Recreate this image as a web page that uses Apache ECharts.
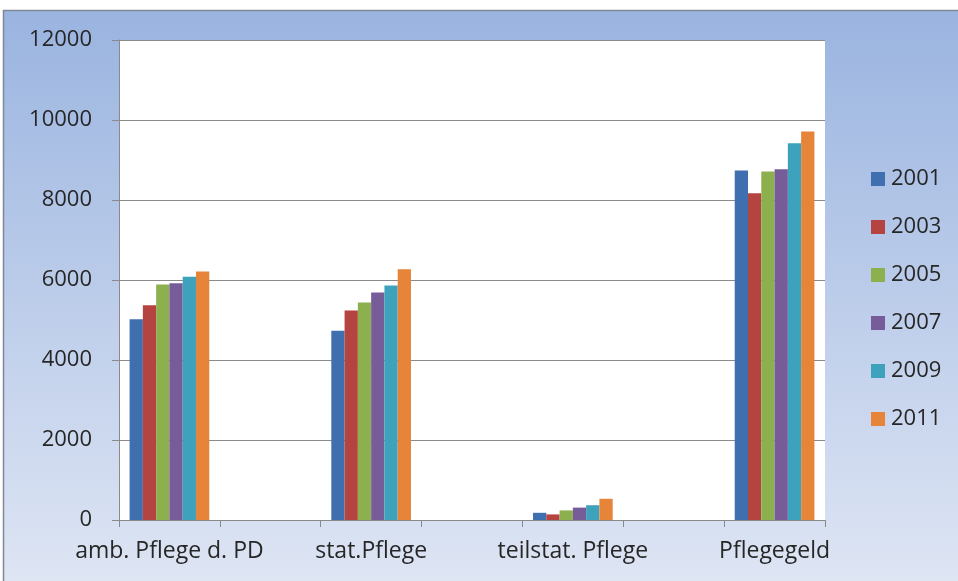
<!DOCTYPE html>
<html>
<head>
<meta charset="utf-8">
<script src="https://cdn.jsdelivr.net/npm/echarts@6/dist/echarts.min.js"></script>
<style>
  html, body { margin: 0; padding: 0; background: #fff; }
  #chart { width: 958px; height: 581px; }
</style>
</head>
<body>
<div id="chart"></div>
<script>
// Leistungsarten (categories) and years (series)
const categories = ["amb. Pflege d. PD", "stat.Pflege", "teilstat. Pflege", "Pflegegeld"];
const years = ["2001", "2003", "2005", "2007", "2009", "2011"];

// Values per year, one entry per category
const v2001 = [5020, 4730, 180, 8740];
const v2003 = [5370, 5240, 140, 8170];
const v2005 = [5890, 5440, 240, 8710];
const v2007 = [5920, 5690, 310, 8770];
const v2009 = [6080, 5860, 370, 9420];
const v2011 = [6210, 6270, 530, 9710];

const yTicks = { min: 0, max: 12000, interval: 2000 };

const colors = ["#3f6fae", "#b5433f", "#8cb04e", "#775c9a", "#3fa2bc", "#e6843a"];
const seriesValues = [v2001, v2003, v2005, v2007, v2009, v2011];

// Each category is followed by an empty slot on the axis
const axisCats = [];
categories.forEach((c, i) => {
  axisCats.push(c);
  if (i < categories.length - 1) axisCats.push("");
});
function spread(vals) {
  const out = [];
  vals.forEach((v, i) => {
    out.push(v);
    if (i < vals.length - 1) out.push("-");
  });
  return out;
}

const font = "'Open Sans', Lato, sans-serif";
const textColor = "#262626";
const chart = echarts.init(document.getElementById("chart"), null, { renderer: "canvas" });

chart.setOption({
  animation: false,
  backgroundColor: "#ffffff",
  color: colors,
  graphic: [
    {
      type: "rect",
      z: -100,
      shape: { x: 3.5, y: 10.5, width: 960, height: 580 },
      style: {
        fill: new echarts.graphic.LinearGradient(0, 0, 0, 1, [
          { offset: 0, color: "#9ab4e0" },
          { offset: 1, color: "#dfe6f4" }
        ]),
        stroke: "#7f8896",
        lineWidth: 1.5
      }
    }
  ],
  grid: {
    left: 119, right: 133, top: 40, bottom: 61,
    show: true, backgroundColor: "#ffffff", borderWidth: 0
  },
  legend: {
    orient: "vertical",
    left: 866,
    top: 162,
    icon: "rect",
    itemWidth: 14,
    itemHeight: 14,
    itemGap: 24,
    textStyle: { fontFamily: font, fontSize: 22, color: textColor, lineHeight: 24, padding: [0, 0, 0, 1] },
    data: years
  },
  xAxis: {
    type: "category",
    data: axisCats,
    axisLine: { lineStyle: { color: "#8a8a8a", width: 1 } },
    axisTick: { show: true, length: 7, lineStyle: { color: "#8a8a8a" } },
    axisLabel: {
      interval: 0, margin: 20,
      fontFamily: font, fontSize: 23, color: textColor
    },
    splitLine: { show: false }
  },
  yAxis: {
    type: "value",
    min: yTicks.min, max: yTicks.max, interval: yTicks.interval,
    axisLine: { show: true, lineStyle: { color: "#8a8a8a", width: 1 } },
    axisTick: { show: true, length: 7, lineStyle: { color: "#8a8a8a" } },
    axisLabel: {
      margin: 27, fontFamily: font, fontSize: 22, color: textColor,
      formatter: (v) => String(v)
    },
    splitLine: { show: true, lineStyle: { color: "#8a8a8a", width: 1 } }
  },
  series: years.map((y, i) => ({
    name: y,
    type: "bar",
    data: spread(seriesValues[i]),
    barGap: "0%",
    barCategoryGap: "21%",
    itemStyle: { color: colors[i] }
  }))
});
</script>
</body>
</html>
